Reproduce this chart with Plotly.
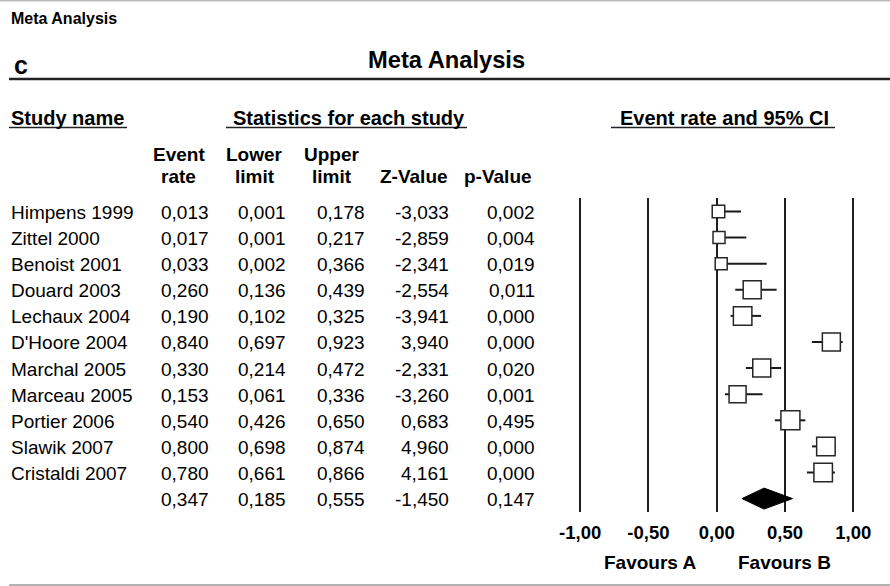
import plotly.graph_objects as go

# ---------------- data ----------------
studies = ["Himpens 1999", "Zittel 2000", "Benoist 2001", "Douard 2003", "Lechaux 2004",
           "D'Hoore 2004", "Marchal 2005", "Marceau 2005", "Portier 2006", "Slawik 2007",
           "Cristaldi 2007"]
event_rate = [0.013, 0.017, 0.033, 0.260, 0.190, 0.840, 0.330, 0.153, 0.540, 0.800, 0.780]
lower_limit = [0.001, 0.001, 0.002, 0.136, 0.102, 0.697, 0.214, 0.061, 0.426, 0.698, 0.661]
upper_limit = [0.178, 0.217, 0.366, 0.439, 0.325, 0.923, 0.472, 0.336, 0.650, 0.874, 0.866]
z_value = [-3.033, -2.859, -2.341, -2.554, -3.941, 3.940, -2.331, -3.260, 0.683, 4.960, 4.161]
p_value = [0.002, 0.004, 0.019, 0.011, 0.000, 0.000, 0.020, 0.001, 0.495, 0.000, 0.000]

summary_rate = 0.347
summary_lower = 0.185
summary_upper = 0.555
summary_z = -1.450
summary_p = 0.147

axis_ticks = [-1.0, -0.5, 0.0, 0.5, 1.0]

# ---------------- style ----------------
W, H = 890, 586
FONT = "Liberation Sans, Arial, Helvetica, sans-serif"
INK = "#000000"
box_size_px = [12.5, 12, 12, 18, 18.5, 18, 18, 17, 19, 18.5, 18.5]

X0_PX, X_SCALE = 716.7, 136.5        # pixel of value 0 and pixels per unit
ROW0_PX, ROW_STEP = 211.5, 26.1      # pixel of first row and row spacing
PLOT_L, PLOT_R = 575, 858
PLOT_T, PLOT_B = 198, 511.7


def px_x(p):
    return p / W


def px_y(p):
    return 1 - p / H


def fmt(v, nd=3):
    return f"{v:.{nd}f}".replace(".", ",")


n = len(studies)
rows = list(range(n))
summary_row = n

fig = go.Figure()

# confidence-interval lines
ci_x, ci_y = [], []
for lo, hi, r in zip(lower_limit, upper_limit, rows):
    ci_x += [lo, hi, None]
    ci_y += [r, r, None]
fig.add_trace(go.Scatter(x=ci_x, y=ci_y, mode="lines",
                         line=dict(color="#1a1a1a", width=2), hoverinfo="skip"))

# study boxes
fig.add_trace(go.Scatter(x=event_rate, y=rows, mode="markers",
                         marker=dict(symbol="square", size=box_size_px, color="white",
                                     opacity=1, line=dict(color="#262626", width=1.5)),
                         text=studies, hovertemplate="%{text}: %{x:.3f}<extra></extra>"))

# summary diamond
half_h = 10.5 / ROW_STEP
fig.add_trace(go.Scatter(
    x=[summary_lower, summary_rate, summary_upper, summary_rate, summary_lower],
    y=[summary_row, summary_row - half_h, summary_row, summary_row + half_h, summary_row],
    mode="lines", fill="toself", fillcolor="black",
    line=dict(color="black", width=1), hoverinfo="skip"))

ann = []


def add_text(text, x_px, y, yref="paper", size=19, bold=False, xanchor="left", yshift=0):
    ann.append(dict(text=text, x=px_x(x_px), xref="paper", y=y, yref=yref,
                    xanchor=xanchor, yanchor="middle", showarrow=False, yshift=yshift,
                    font=dict(family=FONT, size=size, color=INK,
                              weight="bold" if bold else "normal")))


# titles
add_text("Meta Analysis", 9, px_y(18.7), size=16, bold=True)
add_text("c", 12, px_y(64.6), size=25, bold=True)
add_text("Meta Analysis", 366, px_y(59.5), size=23.7, bold=True)

# section headers
add_text("Study name", 9, px_y(117.5), size=20, bold=True)
add_text("Statistics for each study", 231, px_y(117.5), size=20, bold=True)
add_text("Event rate and 95% CI", 618, px_y(117.5), size=20, bold=True)

# column headers
col_heads = [("Event", "rate", 178.5), ("Lower", "limit", 255), ("Upper", "limit", 331.5),
             ("", "Z-Value", 413.5), ("", "p-Value", 497.5)]
for top, bottom, cx in col_heads:
    if top:
        add_text(top, cx, px_y(154), size=19, bold=True, xanchor="center")
    add_text(bottom, cx, px_y(176), size=19, bold=True, xanchor="center")

# table body
col_right = [211, 287.5, 366.5, 451, 537]
for i in rows:
    add_text(studies[i], 9, i, yref="y", yshift=-1)
    vals = [fmt(event_rate[i]), fmt(lower_limit[i]), fmt(upper_limit[i]),
            fmt(z_value[i]), fmt(p_value[i])]
    for v, xr in zip(vals, col_right):
        add_text(v, xr, i, yref="y", xanchor="right", yshift=-1)
svals = [fmt(summary_rate), fmt(summary_lower), fmt(summary_upper), fmt(summary_z), fmt(summary_p)]
for v, xr in zip(svals, col_right):
    add_text(v, xr, summary_row, yref="y", xanchor="right", yshift=-1)

# favours labels
add_text("Favours A", 650, px_y(562), size=19, bold=True, xanchor="center")
add_text("Favours B", 784, px_y(562), size=19, bold=True, xanchor="center")

shapes = [
    dict(type="line", xref="paper", yref="paper", x0=0, x1=1, y0=px_y(0.7), y1=px_y(0.7),
         line=dict(color="#bbbbbb", width=1.5)),
    dict(type="line", xref="paper", yref="paper", x0=px_x(9), x1=1, y0=px_y(79), y1=px_y(79),
         line=dict(color="#222222", width=2.5)),
    dict(type="line", xref="paper", yref="paper", x0=px_x(9), x1=px_x(127), y0=px_y(127.5),
         y1=px_y(127.5), line=dict(color="#222222", width=1.5)),
    dict(type="line", xref="paper", yref="paper", x0=px_x(226), x1=px_x(467), y0=px_y(127.5),
         y1=px_y(127.5), line=dict(color="#222222", width=1.5)),
    dict(type="line", xref="paper", yref="paper", x0=px_x(611), x1=px_x(835), y0=px_y(127.5),
         y1=px_y(127.5), line=dict(color="#222222", width=1.5)),
    dict(type="line", xref="paper", yref="paper", x0=px_x(9), x1=1, y0=px_y(585), y1=px_y(585),
         line=dict(color="#999999", width=1.5)),
]

fig.update_layout(
    width=W, height=H, margin=dict(l=0, r=0, t=0, b=0, pad=0, autoexpand=False),
    paper_bgcolor="white", plot_bgcolor="white", showlegend=False,
    annotations=ann, shapes=shapes,
    xaxis=dict(domain=[px_x(PLOT_L), px_x(PLOT_R)],
               range=[(PLOT_L - X0_PX) / X_SCALE, (PLOT_R - X0_PX) / X_SCALE],
               tickvals=axis_ticks, ticktext=[fmt(t, 2) for t in axis_ticks],
               showgrid=True, gridcolor="#1e1e1e", gridwidth=2, zeroline=False,
               showline=False, ticks="", ticklabelstandoff=8, automargin=False,
               tickfont=dict(family=FONT, size=18.5, color=INK, weight="bold"),
               fixedrange=True),
    yaxis=dict(domain=[px_y(PLOT_B), px_y(PLOT_T)],
               range=[(PLOT_B - ROW0_PX) / ROW_STEP, (PLOT_T - ROW0_PX) / ROW_STEP],
               showgrid=False, zeroline=False, showline=False, showticklabels=False,
               automargin=False, fixedrange=True),
)

fig.write_html("out.html", config={"displayModeBar": False},
               post_script="document.body.style.margin='0';document.body.style.overflow='hidden';")
